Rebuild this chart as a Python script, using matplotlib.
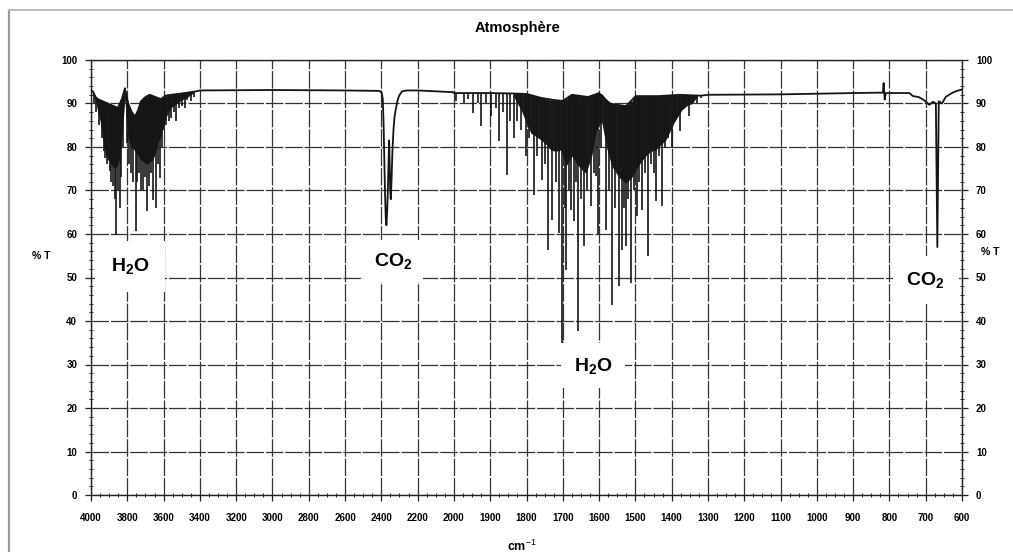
import matplotlib
matplotlib.use("Agg")
import matplotlib.pyplot as plt
from matplotlib.lines import Line2D
from matplotlib.ticker import FixedLocator
import numpy as np

plt.rcParams['font.family'] = ['Liberation Sans', 'DejaVu Sans']
plt.rcParams['mathtext.fontset'] = 'custom'
plt.rcParams['mathtext.rm'] = 'Liberation Sans'
plt.rcParams['mathtext.bf'] = 'Liberation Sans:bold'

# upper trace of the spectrum (wavenumber, %T)
env_wn = [4000, 3990, 3975, 3962, 3935, 3907, 3880, 3852, 3830, 3813, 3795, 3775,
          3758, 3740, 3725, 3700, 3676, 3645, 3615, 3590, 3560, 3520, 3467, 3420,
          3400, 3000, 2600, 2412, 2398, 2392, 2388, 2384, 2380, 2376, 2372, 2368,
          2364, 2360, 2357, 2354, 2351, 2348, 2344, 2339, 2333, 2327, 2321, 2312,
          2302, 2286, 2260, 2200, 2100, 2005, 2000, 1900, 1835, 1800, 1760, 1724,
          1700, 1675, 1630, 1600, 1573, 1526, 1499, 1435, 1380, 1320, 1300, 1100,
          900, 818, 816, 813, 810, 745, 735, 720, 705, 690, 680, 672, 668, 664,
          655, 645, 628, 614, 600]
env_t = [93.0, 92.8, 91.5, 91.0, 90.5, 90.0, 89.5, 89.0, 91.0, 93.5, 90.0, 88.0,
         87.0, 88.5, 90.5, 91.5, 92.0, 91.5, 91.0, 91.8, 92.0, 92.2, 92.5, 92.8,
         93.0, 93.1, 93.0, 92.9, 92.5, 91.0, 86.0, 78.0, 70.0, 64.0, 62.0, 65.0,
         70.0, 77.0, 81.5, 76.0, 70.0, 68.0, 72.0, 79.0, 84.0, 87.0, 88.5, 90.5,
         91.8, 92.8, 93.0, 93.0, 92.8, 92.6, 92.4, 92.4, 92.3, 92.2, 91.3, 90.8,
         90.6, 92.0, 91.5, 92.4, 90.0, 89.4, 91.7, 91.7, 92.0, 91.8, 92.0, 92.1,
         92.4, 92.5, 94.7, 90.9, 92.4, 92.4, 91.7, 91.5, 90.8, 89.7, 90.4, 90.0,
         57.0, 90.5, 90.0, 91.5, 92.4, 92.9, 93.2]

# unresolved line forests (dark mass): wavenumber, top, bottom
band1_wn = [3990, 3975, 3962, 3950, 3935, 3920, 3907, 3895, 3880, 3866, 3852, 3840,
            3830, 3819, 3813, 3805, 3795, 3780, 3765, 3758, 3740, 3725, 3710, 3692,
            3676, 3660, 3645, 3630, 3615, 3600, 3585, 3560, 3530, 3500, 3467, 3440]
band1_top = [92.8, 91.5, 91.0, 90.8, 90.5, 90.2, 90.0, 89.8, 89.5, 89.2, 89.0, 89.5,
             91.0, 92.8, 93.5, 92.0, 90.0, 88.5, 87.5, 87.0, 88.5, 90.5, 91.2, 91.5,
             92.0, 91.8, 91.5, 91.2, 91.0, 91.5, 91.8, 92.0, 92.2, 92.3, 92.5, 92.8]
band1_low = [92.5, 90.5, 88.0, 86.0, 82.0, 78.5, 77.0, 76.5, 75.5, 75.0, 76.0, 78.0,
             82.0, 88.0, 91.0, 86.0, 82.0, 80.0, 79.5, 79.0, 78.0, 77.0, 76.5, 76.0,
             76.5, 77.0, 78.5, 81.0, 82.5, 85.0, 87.0, 89.0, 90.0, 90.8, 91.5, 92.3]

band2_wn = [1835, 1815, 1800, 1788, 1775, 1760, 1745, 1733, 1720, 1705, 1691, 1675,
            1660, 1645, 1636, 1620, 1609, 1600, 1592, 1580, 1565, 1545, 1526, 1510,
            1499, 1485, 1471, 1457, 1444, 1430, 1416, 1405, 1394, 1383, 1372, 1358,
            1344, 1330]
band2_top = [92.3, 92.3, 92.2, 92.0, 91.6, 91.3, 91.0, 90.8, 90.7, 90.6, 91.0, 92.0,
             91.8, 91.6, 91.5, 91.8, 92.2, 92.4, 92.2, 91.0, 90.0, 89.6, 89.4, 90.5,
             91.7, 91.7, 91.7, 91.7, 91.7, 91.8, 91.8, 92.0, 92.0, 92.0, 92.0, 92.0,
             92.0, 92.0]
band2_low = [91.5, 88.5, 85.5, 83.2, 82.5, 81.6, 80.5, 79.3, 79.0, 79.3, 75.6, 77.9,
             76.0, 74.5, 74.0, 78.0, 83.2, 85.5, 85.5, 80.0, 75.6, 73.0, 71.7, 73.0,
             74.7, 76.5, 78.0, 79.0, 79.3, 80.5, 81.6, 83.5, 85.5, 87.0, 88.5, 89.5,
             90.0, 91.5]

# resolved absorption lines: wavenumber, minimum %T
line_wn = [3985, 3970, 3955, 3942, 3930, 3923, 3912, 3896, 3888, 3879, 3870, 3862,
           3850, 3841, 3832, 3825, 3800, 3790, 3780, 3770, 3753, 3745, 3735, 3725,
           3712, 3700, 3692, 3680, 3670, 3659, 3643, 3632, 3621, 3610, 3598, 3585,
           3572, 3560, 3545, 3533, 3515, 3500, 3484, 3470, 3451, 3430,
           1995, 1972, 1960, 1948, 1935, 1926, 1912, 1898, 1885, 1876, 1865, 1854,
           1845, 1835, 1825, 1815, 1802, 1792, 1780, 1770, 1758, 1750, 1741, 1730,
           1720, 1711, 1702, 1695, 1691, 1684, 1678, 1670, 1664, 1658, 1650, 1642,
           1632, 1623, 1615, 1609, 1603, 1595, 1582, 1574, 1565, 1556, 1546, 1537,
           1530, 1526, 1519, 1512, 1505, 1496, 1489, 1482, 1474, 1466, 1458, 1450,
           1444, 1436, 1427, 1418, 1410, 1400, 1390, 1377, 1365, 1353, 1340, 1331,
           1318]
line_t = [90.0, 88.0, 85.0, 82.0, 79.0, 77.5, 76.0, 74.5, 72.0, 71.0, 68.0, 59.8,
          70.0, 66.0, 73.0, 80.0, 81.0, 76.0, 74.0, 72.0, 60.7, 72.0, 74.0, 70.0,
          70.0, 73.0, 65.3, 71.0, 74.0, 67.8, 66.0, 76.0, 72.9, 80.0, 84.0, 85.0,
          86.0, 86.7, 88.0, 86.0, 89.0, 89.5, 89.0, 90.8, 90.5, 91.5,
          90.5, 90.0, 91.0, 87.8, 90.0, 84.8, 90.0, 87.1, 89.0, 81.4, 88.0, 73.6,
          86.0, 82.1, 86.0, 84.0, 78.0, 82.0, 69.0, 78.0, 72.4, 76.0, 56.3, 63.2,
          72.0, 60.2, 34.5, 66.0, 51.7, 70.0, 65.5, 63.0, 72.0, 37.7, 68.0, 57.2,
          70.0, 66.4, 74.0, 73.3, 60.0, 80.0, 60.9, 70.0, 43.7, 66.0, 48.0, 56.3,
          66.0, 57.2, 68.0, 48.7, 70.0, 64.1, 72.0, 65.5, 74.0, 54.9, 76.0, 74.0,
          67.6, 78.0, 66.4, 80.0, 82.0, 79.8, 86.0, 83.7, 89.0, 87.1, 90.0, 90.0,
          91.2]

major_wn = [4000, 3800, 3600, 3400, 3200, 3000, 2800, 2600, 2400, 2200, 2000,
            1900, 1800, 1700, 1600, 1500, 1400, 1300, 1200, 1100, 1000, 900, 800,
            700, 600]

labels = [(r'$\mathbf{H_2O}$', 3786, 52.6, 0.8),
          (r'$\mathbf{CO_2}$', 2335, 53.8, 0.55),
          (r'$\mathbf{H_2O}$', 1617, 29.7, 0.65),
          (r'$\mathbf{CO_2}$', 700, 49.4, 0.7)]


def fwd(x):
    x = np.asarray(x, dtype=float)
    return np.where(x <= 2000, x / 100.0, 20 + (x - 2000) / 200.0)


def inv(y):
    y = np.asarray(y, dtype=float)
    return np.where(y <= 20, y * 100.0, 2000 + (y - 20) * 200.0)


fig = plt.figure(figsize=(10.13, 5.52), dpi=100)
ax = fig.add_axes([91 / 1013, 1 - 495 / 552, 871 / 1013, 435 / 552])
ax.set_xscale('function', functions=(fwd, inv))
ax.set_xlim(4000, 600)
ax.set_ylim(0, 100)

# grid
ax.xaxis.set_major_locator(FixedLocator(major_wn))
ax.set_xticklabels([str(v) for v in major_wn])
minor_x = list(np.arange(4000, 2000, -50)) + list(np.arange(2000, 600, -25))
ax.xaxis.set_minor_locator(FixedLocator(minor_x))
ax.set_yticks(np.arange(0, 101, 10))
ax.yaxis.set_minor_locator(FixedLocator(np.arange(0, 101, 2)))
ax.grid(True, which='major', color='#333333', lw=0.9, ls=(0, (14, 1.5)), zorder=1)
ax.tick_params(axis='both', which='major', labelsize=7, direction='out', length=4,
               width=0.9, color='#222222')
ax.tick_params(axis='both', which='minor', direction='inout', length=3, width=0.7,
               color='#222222')
ax.tick_params(axis='x', which='major', pad=9)
ax.tick_params(axis='y', which='both', right=True, labelright=True)
ax.tick_params(axis='y', which='major', pad=6)
for lab in ax.get_xticklabels() + ax.get_yticklabels():
    lab.set_fontweight('bold')
for sp in ax.spines.values():
    sp.set_color('#222222')
    sp.set_linewidth(1.0)

# spectrum
ax.fill_between(band1_wn, band1_low, band1_top, color='#1a1a1a', lw=0, zorder=3)
ax.fill_between(band2_wn, band2_low, band2_top, color='#1a1a1a', lw=0, zorder=3)
tops = np.interp(line_wn, env_wn[::-1], env_t[::-1])
ax.vlines(line_wn, line_t, tops, color='#151515', lw=1.2, zorder=3)
ax.plot(env_wn, env_t, color='#151515', lw=1.3, zorder=4)

for txt, x, y, pad in labels:
    ax.text(x, y, txt, fontsize=14, ha='center', va='center', zorder=6,
            bbox=dict(boxstyle='square,pad=%.2f' % pad, fc='white', ec='none'))

fig.text(518 / 1013, 1 - 28 / 552, 'Atmosphère', fontsize=10.5, fontweight='bold',
         ha='center', va='center')
fig.text(41 / 1013, 1 - 256 / 552, '% T', fontsize=7.5, fontweight='bold',
         ha='center', va='center')
fig.text(990 / 1013, 1 - 252 / 552, '% T', fontsize=7.5, fontweight='bold',
         ha='center', va='center')
fig.text(522 / 1013, 1 - 546 / 552, r'cm$^{-1}$', fontsize=9, fontweight='bold',
         ha='center', va='center')

# frame of the page
fig.add_artist(Line2D([9 / 1013, 9 / 1013], [0, 1 - 10 / 552], transform=fig.transFigure,
                      color='#999999', lw=1.6))
fig.add_artist(Line2D([9 / 1013, 1.0], [1 - 10 / 552, 1 - 10 / 552],
                      transform=fig.transFigure, color='#bbbbbb', lw=1.4))

fig.savefig('out.png', dpi=100)
